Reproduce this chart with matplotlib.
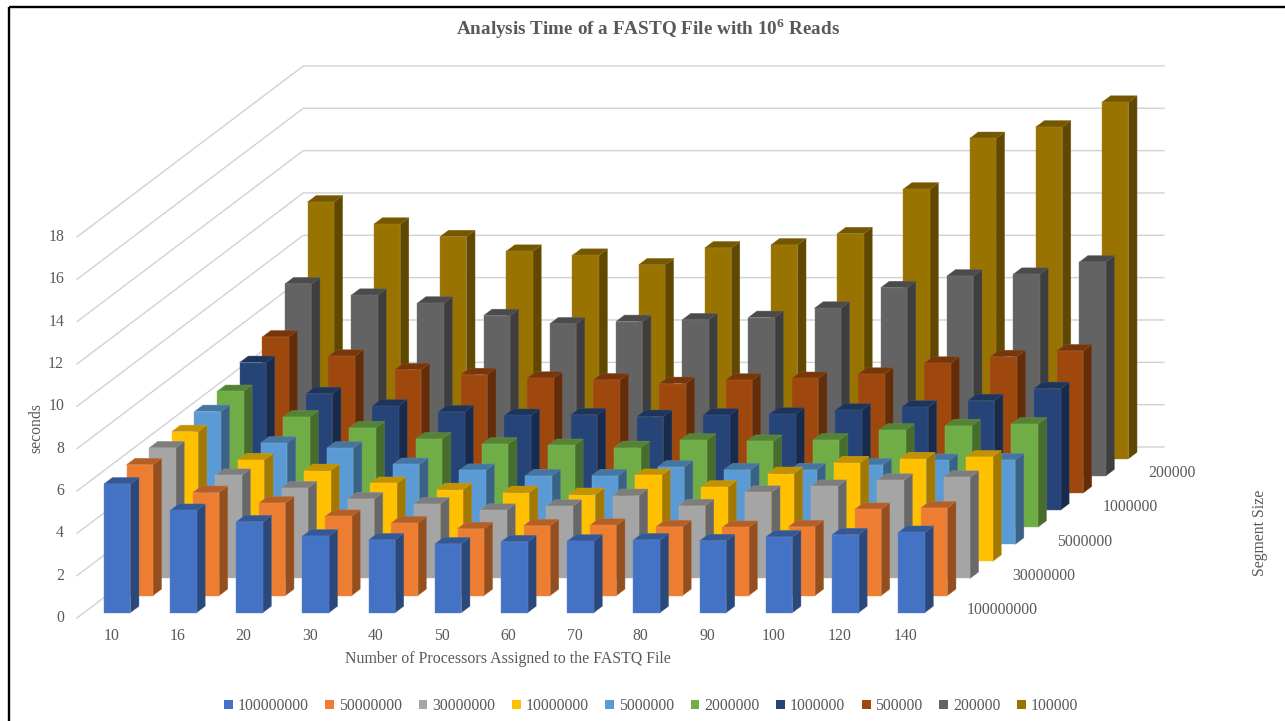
import matplotlib
matplotlib.use("Agg")
import matplotlib.pyplot as plt
from matplotlib.colors import to_rgb
from matplotlib.patches import Patch, Rectangle

plt.rcParams['font.family'] = ['Liberation Serif', 'DejaVu Serif']
plt.rcParams['mathtext.fontset'] = 'custom'
plt.rcParams['mathtext.bf'] = 'Liberation Serif:bold'

processors = [10, 16, 20, 30, 40, 50, 60, 70, 80, 90, 100, 120, 140]
segment_names = ["100000000", "50000000", "30000000", "10000000", "5000000",
                 "2000000", "1000000", "500000", "200000", "100000"]

s_100000000 = [6.08, 4.83, 4.29, 3.62, 3.44, 3.25, 3.35, 3.38, 3.44, 3.40, 3.58, 3.68, 3.79]
s_50000000 = [6.18, 4.87, 4.37, 3.74, 3.43, 3.16, 3.30, 3.32, 3.25, 3.22, 3.25, 4.07, 4.14]
s_30000000 = [6.17, 4.87, 4.28, 3.76, 3.52, 3.22, 3.41, 3.92, 3.44, 4.07, 4.35, 4.64, 4.78]
s_10000000 = [6.13, 4.80, 4.29, 3.68, 3.39, 3.25, 3.16, 4.06, 3.51, 4.15, 4.66, 4.85, 4.93]
s_5000000 = [6.27, 4.78, 4.54, 3.77, 3.49, 3.24, 3.24, 3.65, 3.52, 3.52, 3.75, 3.96, 3.99]
s_2000000 = [6.41, 5.20, 4.69, 4.16, 3.92, 3.86, 3.76, 4.11, 4.05, 4.11, 4.58, 4.79, 4.87]
s_1000000 = [6.97, 5.50, 4.91, 4.64, 4.47, 4.50, 4.42, 4.49, 4.53, 4.72, 4.86, 5.17, 5.74]
s_500000 = [7.37, 6.46, 5.82, 5.59, 5.42, 5.34, 5.17, 5.33, 5.41, 5.61, 6.13, 6.44, 6.71]
s_200000 = [9.07, 8.53, 8.16, 7.57, 7.18, 7.29, 7.37, 7.48, 7.92, 8.89, 9.44, 9.52, 10.10]
s_100000 = [12.13, 11.08, 10.49, 9.80, 9.61, 9.16, 9.96, 10.10, 10.63, 12.74, 15.13, 15.67, 16.84]

series = [s_100000000, s_50000000, s_30000000, s_10000000, s_5000000,
          s_2000000, s_1000000, s_500000, s_200000, s_100000]
colors = ["#4472C4", "#ED7D31", "#A5A5A5", "#FFC000", "#5B9BD5",
          "#70AD47", "#264478", "#9E480E", "#636363", "#997300"]
y_ticks = [0, 2, 4, 6, 8, 10, 12, 14, 16, 18]
# only every other segment size gets a label on the depth axis
depth_labels = ["100000000", "", "30000000", "", "5000000", "", "1000000", "", "200000", ""]

TEXT = "#595959"
FS = 11.3


# oblique projection like the excel 3d column chart, returns pixels
def project(cat, ser, val):
    return 77 + 66.2 * cat + 22.63 * ser, 618 - 17.1 * ser - 21.17 * val


def shade(color, f):
    return tuple(c * f for c in to_rgb(color))


def lighten(color, f):
    return tuple(c + (1 - c) * f for c in to_rgb(color))


def draw_bar(ax, i, s, val, color, z):
    # bar takes 40% of its category and 38% of its depth slot
    c0, c1 = i + 0.3, i + 0.7
    d0, d1 = s + 0.31, s + 0.69
    front = [project(c0, d0, 0), project(c1, d0, 0), project(c1, d0, val), project(c0, d0, val)]
    side = [project(c1, d0, 0), project(c1, d1, 0), project(c1, d1, val), project(c1, d0, val)]
    top = [project(c0, d0, val), project(c1, d0, val), project(c1, d1, val), project(c0, d1, val)]
    for pts, col in [(side, shade(color, 0.63)), (top, shade(color, 0.76)), (front, to_rgb(color))]:
        xs, ys = zip(*pts)
        ax.fill(xs, ys, facecolor=col, edgecolor=lighten(col, 0.15), linewidth=0.3, zorder=z)


fig = plt.figure(figsize=(12.85, 7.21), dpi=100)
ax = fig.add_axes([0, 0, 1, 1])
ax.set_xlim(0, 1285)
ax.set_ylim(721, 0)
ax.axis("off")

# frame of the original screenshot
ax.add_patch(Rectangle((9, 7), 1400, 800, fill=False, edgecolor="black", linewidth=1.7, zorder=0))

# walls
n_cat = len(processors)
n_ser = len(series)
for v in y_ticks:
    x0, y0 = project(0, 0, v)
    x1, y1 = project(0, n_ser, v)
    x2, y2 = project(n_cat, n_ser, v)
    ax.plot([x0, x1, x2], [y0, y1, y2], color="#D2D2D2", linewidth=1.0, zorder=1,
            solid_joinstyle="miter")
    ax.text(64, y0, str(v), ha="right", va="center", color=TEXT, fontsize=FS)

for s in range(n_ser - 1, -1, -1):
    for i in range(n_cat):
        draw_bar(ax, i, s, series[s][i], colors[s], 10 + (n_ser - s))

for i, p in enumerate(processors):
    x, y = project(i + 0.5, 0, 0)
    ax.text(x + 1, 636, str(p), ha="center", va="center", color=TEXT, fontsize=FS)

for s, name in enumerate(depth_labels):
    if name:
        x, y = project(n_cat, s + 0.5, 0)
        ax.text(x + 18, y + 0.5, name, ha="left", va="center", color=TEXT, fontsize=FS)

ax.text(648, 29, r"Analysis Time of a FASTQ File with 10$^{\mathbf{6}}$ Reads", ha="center", va="center",
        color=TEXT, fontsize=13.8, fontweight="bold")
ax.text(508, 659, "Number of Processors Assigned to the FASTQ File", ha="center", va="center",
        color=TEXT, fontsize=11.45)
ax.text(36, 428, "seconds", rotation=90, ha="center", va="center", color=TEXT, fontsize=FS)
ax.text(1260, 533, "Segment Size", rotation=90, ha="center", va="center", color=TEXT, fontsize=FS)

handles = [Patch(facecolor=c, edgecolor="none") for c in colors]
leg = ax.legend(handles, segment_names, ncol=n_ser, loc="center", bbox_to_anchor=(651 / 1285, 1 - 706 / 721),
                bbox_transform=fig.transFigure, frameon=False, fontsize=FS, handlelength=0.55,
                handleheight=0.55, handletextpad=0.3, columnspacing=1.08, labelcolor=TEXT)

fig.savefig("out.png", dpi=100)
